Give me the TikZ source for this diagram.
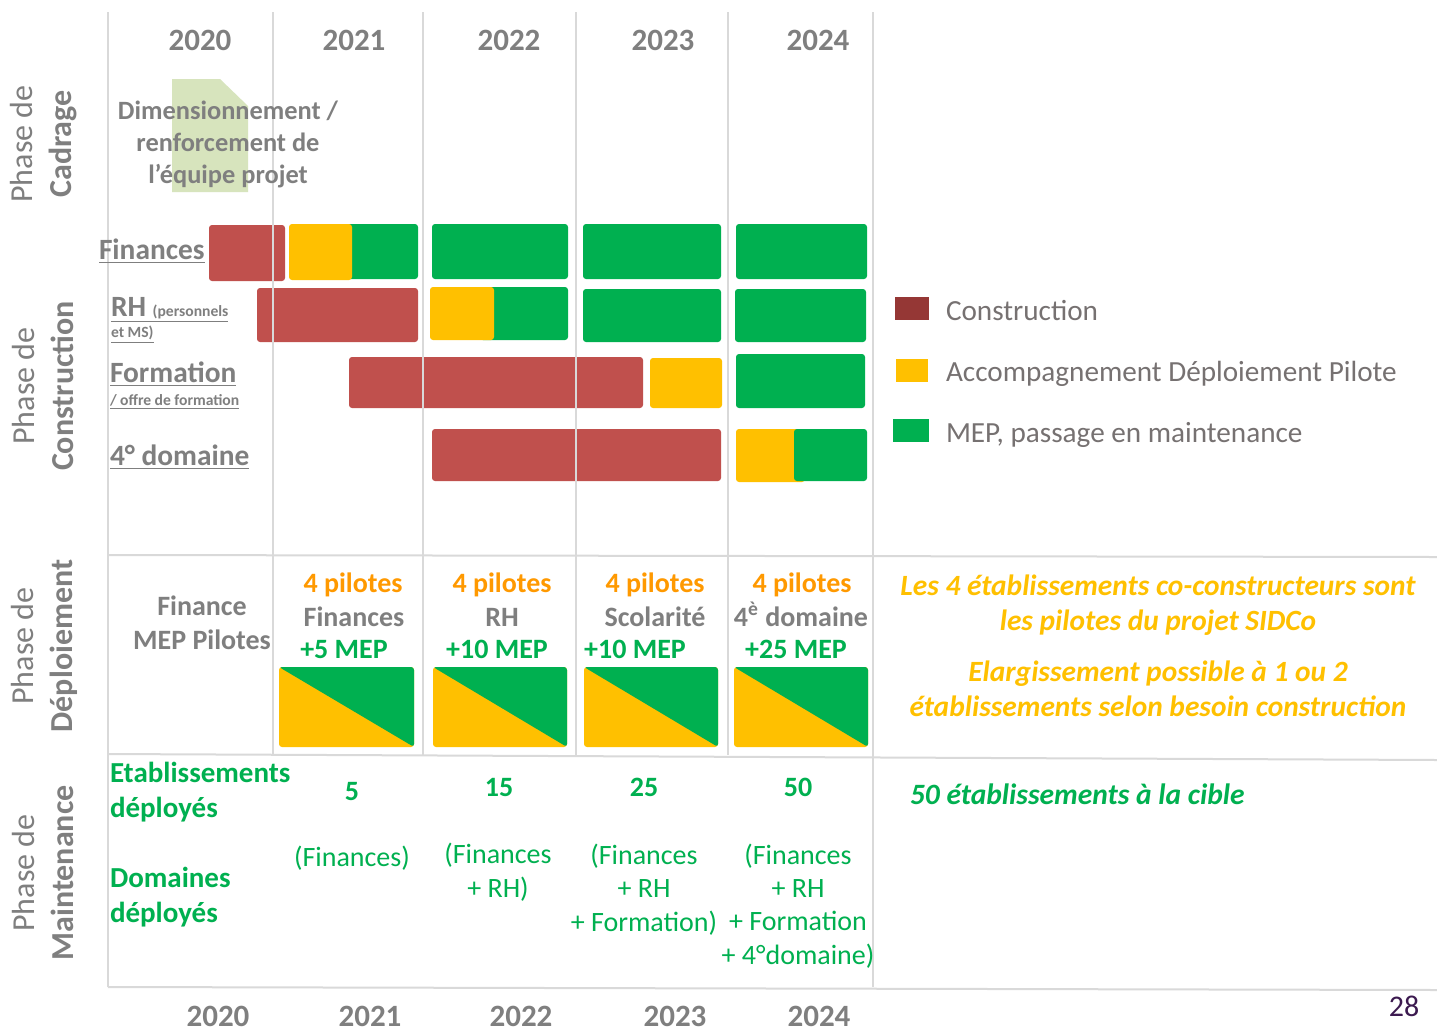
\documentclass[tikz,border=0pt]{standalone}
\usepackage{fontspec}
\setmainfont{Carlito}
\usetikzlibrary{positioning}
\definecolor{gridcolor}{RGB}{217,217,217}
\definecolor{labelgrey}{RGB}{127,127,127}
\definecolor{legendgrey}{RGB}{118,113,113}
\definecolor{constred}{RGB}{192,80,77}
\definecolor{legendred}{RGB}{149,55,53}
\definecolor{pilotyellow}{RGB}{255,192,0}
\definecolor{pilotorange}{RGB}{255,153,0}
\definecolor{mepgreen}{RGB}{0,176,80}
\definecolor{cadragegreen}{RGB}{215,228,189}
\definecolor{pagenumcolor}{RGB}{60,26,80}
\newcommand\fsz[2]{\fontsize{#1}{#2}\selectfont}

\begin{document}
\begin{tikzpicture}[x=0.5pt,y=-0.5pt,inner sep=0pt,outer sep=0pt,
gridline/.style={draw=gridcolor,line width=1pt},
conbar/.style={fill=constred,rounded corners=1.5pt},
pilbar/.style={fill=pilotyellow,rounded corners=1.5pt},
mepbar/.style={fill=mepgreen,rounded corners=1.5pt},
yearlabel/.style={font=\fsz{15.5}{18}\bfseries,text=labelgrey},
phaselabel/.style={rotate=90,align=center,font=\fsz{16}{19.5},text=labelgrey},
domainlabel/.style={anchor=base west,font=\fsz{14.7}{18}\bfseries,text=labelgrey},
domainsub/.style={anchor=base west,font=\fsz{7.8}{9}\bfseries,text=labelgrey},
legendlabel/.style={anchor=base west,font=\fsz{14.6}{17},text=legendgrey},
pilotcount/.style={anchor=base,font=\fsz{14}{17}\bfseries,text=pilotorange},
pilotdomain/.style={anchor=base,font=\fsz{14}{17}\bfseries,text=labelgrey},
mepcount/.style={anchor=base,font=\fsz{14}{17}\bfseries,text=mepgreen},
notetext/.style={anchor=base,align=center,font=\fsz{14.7}{17.5}\bfseries\itshape,text=pilotyellow},
maintlabel/.style={anchor=base west,align=left,font=\fsz{14.5}{17.5}\bfseries,text=mepgreen},
domlist/.style={anchor=base,align=center,font=\fsz{14}{16.6},text=mepgreen},
]
\clip (0,0) rectangle (1437,1030);
\fill[white] (0,0) rectangle (1437,1030);

% cadrage
\fill[cadragegreen] (172,79) -- (220,79) -- (248,106) -- (248,192) -- (172,192) -- cycle;

% construction bars
\fill[conbar] (209,225) rectangle (285,281);
\fill[mepbar] (340,224) rectangle (418,279);
\fill[pilbar] (289,224) rectangle (352,280);
\fill[mepbar] (432,224) rectangle (568,279);
\fill[mepbar] (583,224) rectangle (721,279);
\fill[mepbar] (736,224) rectangle (867,279);

\fill[conbar] (257,288) rectangle (418,342);
\fill[mepbar] (480,287) rectangle (568,340);
\fill[pilbar] (430,287) rectangle (494,340);
\fill[mepbar] (583,289) rectangle (721,342);
\fill[mepbar] (735,289) rectangle (866,342);

\fill[conbar] (349,357) rectangle (643,408);
\fill[pilbar] (650,358) rectangle (722,408);
\fill[mepbar] (736,354) rectangle (865,408);

\fill[conbar] (432,429) rectangle (721,481);
\fill[pilbar] (736,429) rectangle (805,482);
\fill[mepbar] (794,429) rectangle (867,481);

% deploiement
\fill[pilbar] (279,667) rectangle (414,747);
\fill[mepbar] (279,667) -- (414,667) -- (414,747) -- cycle;
\fill[pilbar] (433,667) rectangle (567,747);
\fill[mepbar] (433,667) -- (567,667) -- (567,747) -- cycle;
\fill[pilbar] (584,667) rectangle (718,747);
\fill[mepbar] (584,667) -- (718,667) -- (718,747) -- cycle;
\fill[pilbar] (734,667) rectangle (868,747);
\fill[mepbar] (734,667) -- (868,667) -- (868,747) -- cycle;

% grid
\draw[gridline] (108,12) -- (108,987);
\draw[gridline] (873,12) -- (873,987);
\foreach \gx in {273,423,576,728}
  \draw[gridline] (\gx,12) -- (\gx,755);
\draw[gridline] (108,555) -- (1437,557);
\draw[gridline] (108,754) -- (1437,760);
\draw[gridline] (108,987) -- (1437,990);

% years
\foreach \yx/\yr in {200/2020,354/2021,509/2022,663/2023,818/2024}
  \node[yearlabel,anchor=base] (TOP\yr) at (\yx,50) {\yr};
\foreach \yx/\yr in {218/2020,370/2021,521/2022,675/2023,819/2024}
  \node[yearlabel,anchor=base] (BOT\yr) at (\yx,1026) {\yr};

% phases
\node[phaselabel] (CAD) at (44,144) {Phase de\\\textbf{Cadrage}};
\node[phaselabel] (CONS) at (43,386) {Phase de\\\textbf{Construction}};
\node[phaselabel] (DEPL) at (44,646) {Phase de\\\textbf{Déploiement}};
\node[phaselabel] (MAINT) at (43,873) {Phase de\\\textbf{Maintenance}};

\node[align=center,font=\fsz{13.2}{16}\bfseries,text=labelgrey] (DIM) at (228,144)
  {Dimensionnement /\\renforcement de\\l’équipe projet};

% domaines
\node[domainlabel] (FIN) at (99,259) {\underline{Finances}};
\node[domainlabel] (RH) at (111,316) {\underline{RH {\fsz{7.8}{9}(personnels}}};
\node[domainsub] (RHSUB) at (111,337) {\underline{et MS)}};
\node[domainlabel] (FORM) at (110,382) {\underline{Formation}};
\node[domainsub] (FORMSUB) at (110,405) {\underline{/ offre de formation}};
\node[domainlabel] (DOM) at (110,465) {\underline{4° domaine}};

% legende
\fill[legendred] (895,297) rectangle (929,320);
\fill[pilotyellow] (896,359) rectangle (928,382);
\fill[mepgreen] (893,419) rectangle (929,442);
\node[legendlabel] (LCONS) at (946,320) {Construction};
\node[legendlabel] (LPIL) at (946,381) {Accompagnement Déploiement Pilote};
\node[legendlabel] (LMEP) at (946,442) {MEP, passage en maintenance};

% deploiement texts
\node[align=center,font=\fsz{14}{17}\bfseries,text=labelgrey] (FMEP) at (202,623) {Finance\\MEP Pilotes};
\node[pilotcount] (P21) at (353,592) {4 pilotes};
\node[pilotdomain] (D21) at (354,626) {Finances};
\node[mepcount] (M21) at (344,658) {+5 MEP};
\node[pilotcount] (P22) at (502,592) {4 pilotes};
\node[pilotdomain] (D22) at (502,626) {RH};
\node[mepcount] (M22) at (497,658) {+10 MEP};
\node[pilotcount] (P23) at (655,592) {4 pilotes};
\node[pilotdomain] (D23) at (655,626) {Scolarité};
\node[mepcount] (M23) at (635,658) {+10 MEP};
\node[pilotcount] (P24) at (802,592) {4 pilotes};
\node[pilotdomain] (D24) at (801,626) {4\textsuperscript{è} domaine};
\node[mepcount] (M24) at (796,658) {+25 MEP};

\node[notetext] (NOTE1) at (1158,630) {Les 4 établissements co-constructeurs sont\\les pilotes du projet SIDCo};
\node[notetext] (NOTE2) at (1158,716) {Elargissement possible à 1 ou 2\\établissements selon besoin construction};

% maintenance
\node[maintlabel] (ETAB) at (110,817) {Etablissements\\déployés};
\node[maintlabel] (DOMS) at (110,922) {Domaines\\déployés};
\node[mepcount] (E21) at (352,800) {5};
\node[mepcount] (E22) at (499,796) {15};
\node[mepcount] (E23) at (644,796) {25};
\node[mepcount] (E24) at (798,796) {50};
\node[domlist] (L21) at (352,866) {(Finances)};
\node[domlist] (L22) at (498,897) {(Finances\\+ RH)};
\node[domlist] (L23) at (644,931) {(Finances\\+ RH\\+ Formation)};
\node[domlist] (L24) at (798,964) {(Finances\\+ RH\\+ Formation\\+ 4°domaine)};
\node[anchor=base west,font=\fsz{14.75}{17}\bfseries\itshape,text=mepgreen] (CIBLE) at (910,804) {50 établissements à la cible};

\node[anchor=base,font=\fsz{15}{18},text=pagenumcolor] (PAGE) at (1404,1016) {28};
\end{tikzpicture}
\end{document}
